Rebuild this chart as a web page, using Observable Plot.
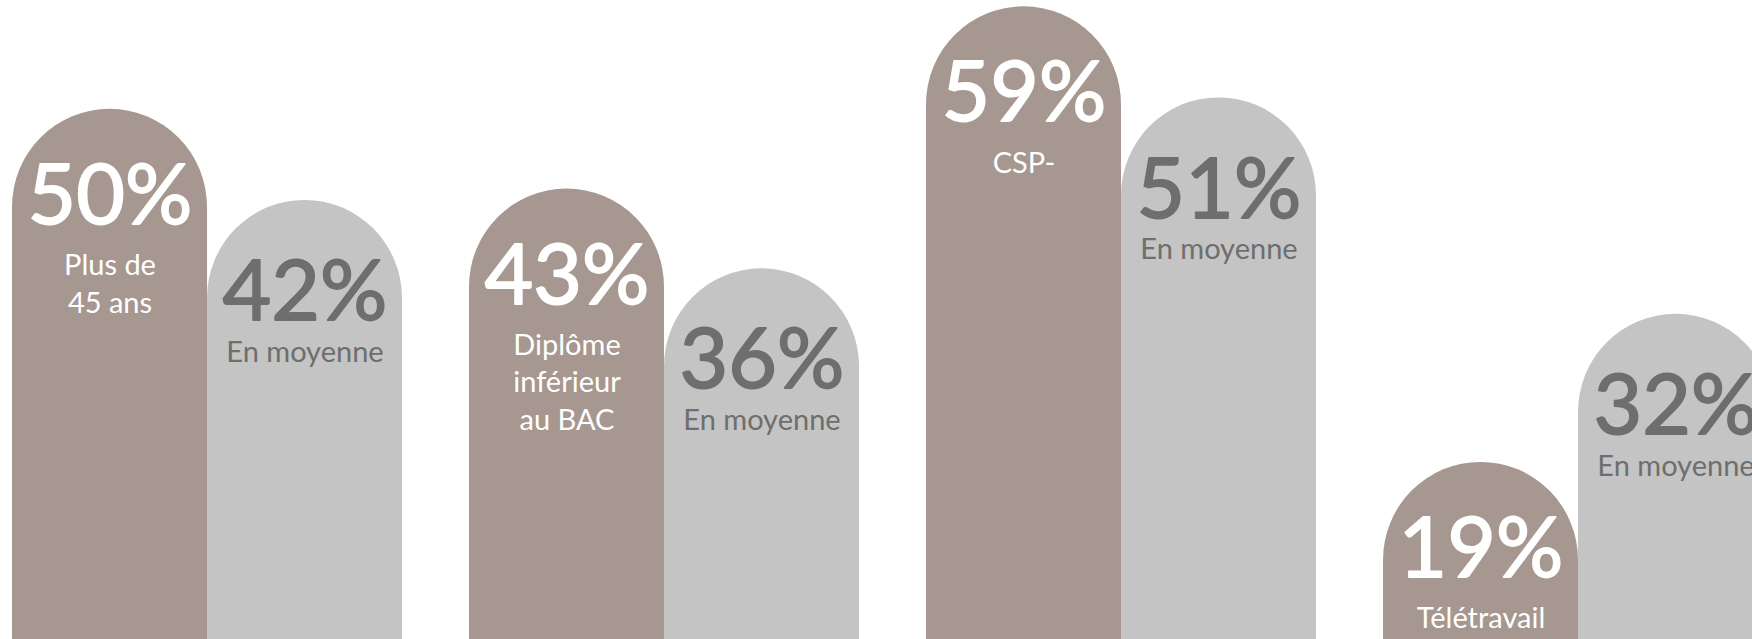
<!DOCTYPE html>
<html>
<head>
<meta charset="utf-8">
<script src="https://cdn.jsdelivr.net/npm/d3@7"></script>
<script src="https://cdn.jsdelivr.net/npm/@observablehq/plot@0.6"></script>
<style>
  html, body { margin: 0; padding: 0; background: #ffffff; overflow: hidden; }
  #chart svg { display: block; overflow: hidden; }
</style>
</head>
<body>
<div id="chart"></div>
<script>
// ---- Data ----
const groups = ["Âge", "Diplôme", "CSP", "Télétravail"];
const segmentLabels = ["Plus de\n45 ans", "Diplôme\ninférieur\nau BAC", "CSP-", "Télétravail"];
const segmentValues = [50, 43, 59, 19];
const averageValues = [42, 36, 51, 32];
const averageLabel = "En moyenne";
const seriesKeys = ["segment", "moyenne"];

// ---- Table built from the arrays ----
const rows = [];
groups.forEach((g, i) => {
  rows.push({group: g, series: "segment", value: segmentValues[i], label: segmentLabels[i]});
  rows.push({group: g, series: "moyenne", value: averageValues[i], label: averageLabel});
});
const segRows = rows.filter(d => d.series === "segment");
const avgRows = rows.filter(d => d.series === "moyenne");

const brown = "#a69790";
const grey = "#c4c4c4";
const darkText = "#6e6e6e";
const font = "Lato, 'Open Sans', sans-serif";
const base = -12; // bar base well below the visible frame (hides bottom rounding)

const chart = Plot.plot({
  width: 1752,
  height: 639,
  margin: 0,
  style: {background: "#ffffff", fontFamily: font, overflow: "hidden"},
  fx: {domain: groups, range: [10, 1773], paddingInner: 0.1452, paddingOuter: 0, axis: null, label: null},
  x: {domain: seriesKeys, padding: 0, axis: null, label: null},
  y: {domain: [3.45, 59.55], range: [639, 0], axis: null, label: null},
  color: {domain: seriesKeys, range: [brown, grey]},
  marks: [
    Plot.barY(rows, {
      fx: "group", x: "series", y1: () => base, y2: "value",
      fill: "series", rx: 98, inset: 0
    }),
    // big percentages (regular weight thickened slightly by a same-colour stroke)
    Plot.text(segRows, {
      fx: "group", x: "series", y: "value", text: d => `${d.value}%`,
      fill: "#ffffff", stroke: "#ffffff", strokeWidth: 1.8,
      fontSize: 84, fontWeight: 400, lineAnchor: "top", dy: 55
    }),
    Plot.text(avgRows, {
      fx: "group", x: "series", y: "value", text: d => `${d.value}%`,
      fill: darkText, stroke: darkText, strokeWidth: 1.8,
      fontSize: 84, fontWeight: 400, lineAnchor: "top", dy: 60
    }),
    // labels
    Plot.text(segRows, {
      fx: "group", x: "series", y: "value", text: "label",
      fill: "#ffffff", fontSize: 29, fontWeight: 400, lineAnchor: "top", lineHeight: 1.3, dy: 139
    }),
    Plot.text(avgRows, {
      fx: "group", x: "series", y: "value", text: "label",
      fill: darkText, fontSize: 29, fontWeight: 400, lineAnchor: "top", dy: 141
    })
  ]
});

document.getElementById("chart").appendChild(chart);
</script>
</body>
</html>
